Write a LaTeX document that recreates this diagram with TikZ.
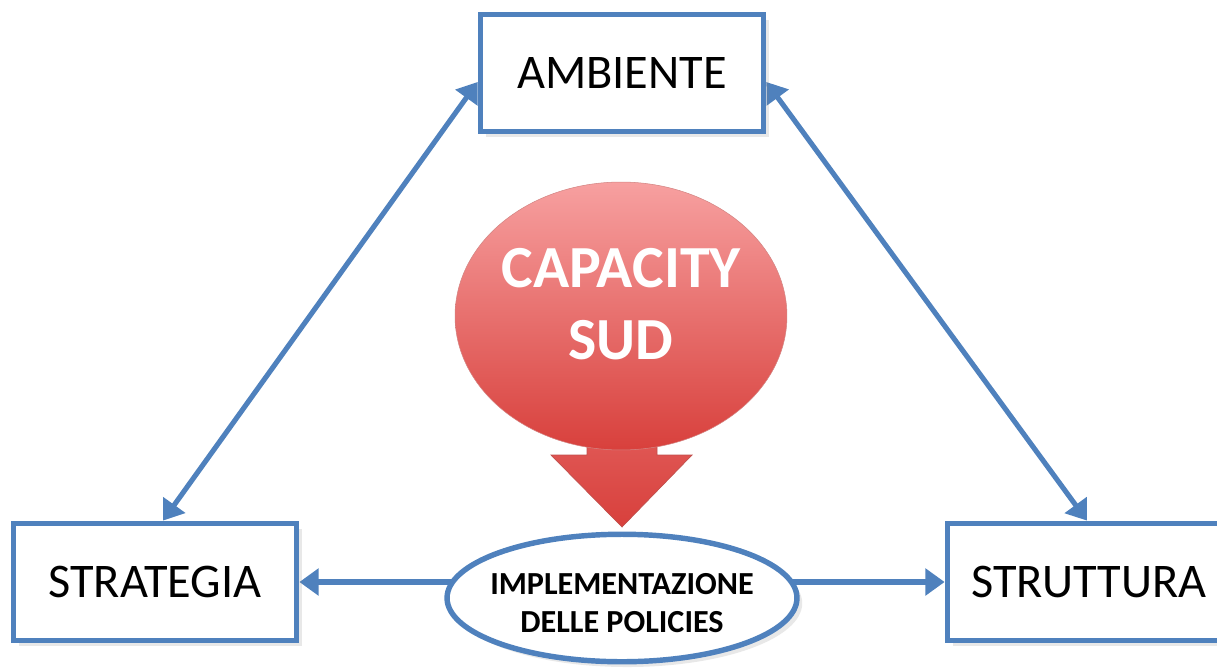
\documentclass[tikz,border=0pt]{standalone}
\usepackage{fontspec}
\setmainfont{Carlito}
\usetikzlibrary{arrows.meta,shapes.geometric,shadows,backgrounds}
\definecolor{obl}{HTML}{4F81BD}
\definecolor{rtop}{HTML}{F7A0A0}
\definecolor{rbot}{HTML}{D8403C}
\definecolor{redge}{HTML}{C0504D}
\tikzset{
  boxnode/.style={draw=obl, line width=3.3pt, fill=white, minimum width=5.66cm, minimum height=2.34cm,
    font=\fontsize{27.5}{32}\selectfont, inner sep=0pt,
    drop shadow={opacity=0.18, shadow xshift=3pt, shadow yshift=-3pt}},
  conn/.style={draw=obl, line width=2.9pt, {Triangle[length=11pt,width=15pt]}-{Triangle[length=11pt,width=15pt]}},
  oneway/.style={draw=obl, line width=2.9pt, -{Triangle[length=11pt,width=15pt]}},
}
\begin{document}
\begin{tikzpicture}[x=0.02cm,y=-0.02cm]
\useasboundingbox (0,0) rectangle (1217,670);
\clip (0,0) rectangle (1217,670);
% nodes
\node[boxnode] (amb) at (622,73) {AMBIENTE};
\node[boxnode] (strat) at (155,582) {STRATEGIA};
\node[boxnode] (strut) at (1089,582) {STRUTTURA};
% down arrow (behind circle)
\shade[top color=rbot!70!rtop, bottom color=rbot, draw=redge, line width=0.4pt]
  (587,420) -- (657,420) -- (657,455) -- (692,455) -- (622,527) -- (551,455) -- (587,455) -- cycle;
\node[ellipse, minimum width=6.64cm, minimum height=5.36cm, inner sep=0pt, top color=rtop, bottom color=rbot,
  draw=redge!70, line width=0.3pt] (cap) at (621,316) {};
\node[text=white, align=center, font=\bfseries\fontsize{34}{41}\selectfont] (captext) at (621,304) {CAPACITY\\SUD};
\node[ellipse, draw=obl, line width=3.1pt, fill=white, minimum width=7.0cm, minimum height=2.55cm,
  inner sep=0pt, drop shadow={opacity=0.18, shadow xshift=3pt, shadow yshift=-3pt}] (impl) at (622,598) {};
\node[align=center, font=\bfseries\fontsize{18.3}{21.5}\selectfont] (impltext) at (622,603)
  {IMPLEMENTAZIONE\\DELLE POLICIES};
% connectors
\begin{scope}[on background layer]
\draw[conn] ([yshift=-0.18cm]amb.west) -- ([xshift=0.16cm]strat.north);
\draw[conn] ([yshift=-0.18cm]amb.east) -- ([xshift=-0.04cm]strut.north);
\draw[oneway] (impl.center |- strat.east) -- (strat.east);
\draw[oneway] (impl.center |- strut.west) -- (strut.west);
\end{scope}
\end{tikzpicture}
\end{document}
